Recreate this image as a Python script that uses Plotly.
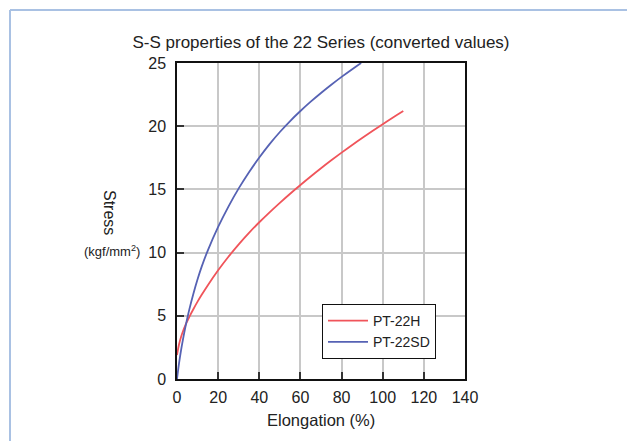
import plotly.graph_objects as go

# Data
h_x = [0, 1, 2, 3, 4, 5, 6, 8, 10, 12, 15, 20, 25, 30, 35, 40, 45, 50, 55,
       60, 65, 70, 75, 80, 85, 90, 95, 100, 105, 110]
h_y = [1.9, 2.75, 3.35, 3.82, 4.22, 4.58, 4.92, 5.54, 6.12, 6.66, 7.42, 8.6, 9.67,
       10.65, 11.56, 12.4, 13.19, 13.94, 14.66, 15.35, 16.02, 16.67, 17.3, 17.91,
       18.5, 19.07, 19.62, 20.16, 20.69, 21.2]

sd_x = [0, 1, 2, 3, 4, 5, 6, 8, 10, 12, 15, 20, 25, 30, 35, 40, 45, 50, 55, 60, 65,
        70, 75, 80, 85, 89.5]
sd_y = [0, 1.25, 2.3, 3.22, 4.05, 4.81, 5.51, 6.77, 7.89, 8.89, 10.18, 12.03, 13.64,
        15.08, 16.36, 17.52, 18.58, 19.54, 20.41, 21.2, 21.94, 22.63, 23.28, 23.9,
        24.49, 25.0]

x_ticks = [0, 20, 40, 60, 80, 100, 120, 140]
y_ticks = [0, 5, 10, 15, 20, 25]

FONT = "Liberation Sans, Arial, Helvetica, sans-serif"
TXT = "#222222"

fig = go.Figure()
fig.add_trace(go.Scatter(x=h_x, y=h_y, mode="lines", name="PT-22H",
                         line=dict(color="#f0545a", width=1.8, shape="spline", smoothing=1)))
fig.add_trace(go.Scatter(x=sd_x, y=sd_y, mode="lines", name="PT-22SD",
                         line=dict(color="#5662b4", width=1.8, shape="spline", smoothing=1)))

# plot area in pixels
L, R, T, B = 177, 465, 63, 379
W, H = R - L, B - T

def px(xp):
    return (xp - L) / W

def py(yp):
    return (B - yp) / H

axis_common = dict(showgrid=True, gridcolor="#c8c8c8", gridwidth=1.5,
                   showline=True, linecolor="#111111", linewidth=1.5, mirror=True,
                   ticks="inside", ticklen=7, tickwidth=1.5, tickcolor="#333333",
                   zeroline=False, tickfont=dict(family=FONT, size=16, color=TXT))

fig.update_layout(
    width=627, height=441,
    margin=dict(l=L, r=627 - R, t=T, b=441 - B),
    paper_bgcolor="white", plot_bgcolor="white",
    font=dict(family=FONT, color=TXT),
    title=dict(text="S-S properties of the 22 Series (converted values)",
               x=0.5, xref="paper", xanchor="center",
               y=1 - 42 / 441, yref="container", yanchor="middle",
               font=dict(family=FONT, size=17, color=TXT)),
    xaxis=dict(range=[0, 140], tickvals=x_ticks, ticklabelstandoff=3, **axis_common),
    yaxis=dict(range=[0, 25], tickvals=y_ticks, ticklabelstandoff=6, **axis_common),
    legend=dict(x=px(322), y=py(304), xanchor="left", yanchor="top",
                bordercolor="#111111", borderwidth=1, bgcolor="white",
                font=dict(family=FONT, size=14, color=TXT),
                itemwidth=40, tracegroupgap=0),
    showlegend=True,
)

fig.add_annotation(text="Stress", x=px(110), y=py(212), xref="paper", yref="paper",
                   textangle=90, showarrow=False, xanchor="center", yanchor="middle",
                   font=dict(family=FONT, size=16, color=TXT))
fig.add_annotation(text="(kgf/mm<sup>2</sup>)", x=px(112), y=py(251), xref="paper", yref="paper",
                   showarrow=False, xanchor="center", yanchor="middle",
                   font=dict(family=FONT, size=13, color=TXT))
fig.add_annotation(text="Elongation (%)", x=0.5, y=py(420), xref="paper", yref="paper",
                   showarrow=False, xanchor="center", yanchor="middle",
                   font=dict(family=FONT, size=16.5, color=TXT))

# light blue frame lines at top and left
fig.add_shape(type="line", xref="paper", yref="paper",
              x0=px(10), x1=px(640), y0=py(10), y1=py(10),
              line=dict(color="#a9c1e3", width=2))
fig.add_shape(type="line", xref="paper", yref="paper",
              x0=px(10), x1=px(10), y0=py(10), y1=py(460),
              line=dict(color="#a9c1e3", width=2))

fig.write_html("out.html", config={"displayModeBar": False},
               post_script="document.body.style.margin='0';document.body.style.overflow='hidden';")
